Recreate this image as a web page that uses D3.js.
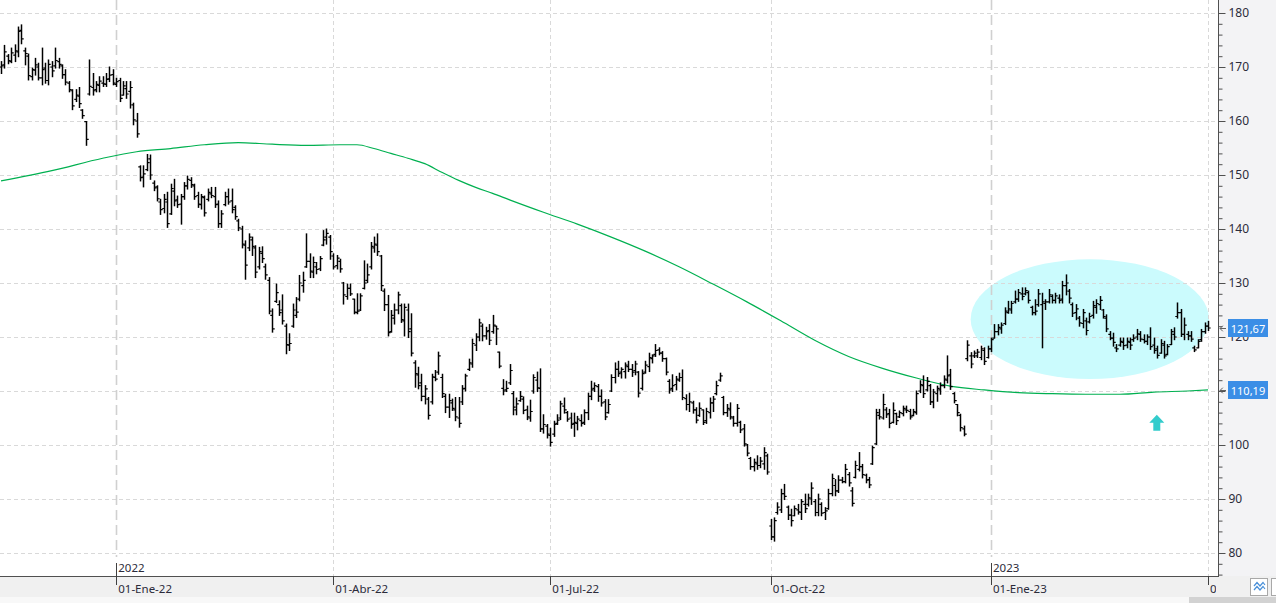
<!DOCTYPE html>
<html>
<head>
<meta charset="utf-8">
<script src="https://cdnjs.cloudflare.com/ajax/libs/d3/7.8.5/d3.min.js"></script>
<style>
  body { margin: 0; background: #fff; }
  svg { display: block; font-family: "Noto Sans", "Open Sans", sans-serif; }
</style>
</head>
<body>
<script>
const W = 1276, H = 603
const PLOT_RIGHT = 1218, PLOT_BOTTOM = 576

// daily bars [open, high, low, close], one array per quarter
const q4_2021 = [
  [170.0,171.0,168.8,170.2],[170.4,174.0,169.8,172.8],[172.0,172.3,170.6,171.2],[171.0,173.5,170.8,172.6],
  [172.2,174.1,171.0,173.0],[172.8,177.4,171.9,176.6],[176.8,177.8,174.3,175.2],[173.0,173.5,170.4,172.5],
  [172.0,172.4,167.6,168.4],[168.2,169.8,167.6,169.5],[169.4,171.6,168.5,170.4],[170.0,170.7,167.6,168.0],
  [168.0,173.5,166.7,169.5],[169.8,170.7,167.0,167.5],[167.5,171.3,166.7,170.5],[170.0,171.0,168.2,169.3],
  [170.2,173.5,169.8,171.2],[171.0,171.6,169.8,170.5],[170.2,170.4,167.9,168.6],[168.6,169.5,166.7,167.2],
  [167.0,167.3,165.4,165.8],[165.6,165.8,162.1,162.8],[164.0,165.8,163.6,164.8],[164.6,166.2,162.5,163.2],
  [162.0,162.1,160.5,161.0],[159.9,159.9,155.5,156.6],[165.0,171.3,164.8,166.4],[166.2,168.8,164.8,165.6],
  [165.8,167.3,165.4,166.8],[166.6,168.2,165.4,167.4],[167.0,168.2,166.4,166.9],[166.8,168.8,166.4,167.7],
  [167.8,170.0,167.3,168.5],[168.6,169.5,166.7,167.0]
]
const q1_2022 = [
  [166.8,167.9,166.4,167.3],[167.5,167.9,163.6,164.2],[164.8,167.3,164.8,166.5],[166.0,167.3,164.2,165.0],
  [165.5,167.3,162.4,166.2],[163.0,163.3,159.3,160.2],[160.0,161.4,157.0,157.6],[151.5,151.7,148.9,149.5],
  [149.6,151.7,147.8,150.2],[151.0,153.8,150.8,152.3],[153.0,153.7,149.2,150.0],[148.5,148.9,147.1,147.6],
  [147.8,148.0,145.2,145.6],[145.0,145.5,142.7,143.6],[143.8,146.4,143.0,145.5],[145.0,146.8,140.3,141.0],
  [142.8,148.3,142.7,147.5],[147.0,149.2,144.3,145.2],[145.4,146.1,144.0,144.5],[144.6,146.4,140.9,146.0],
  [146.0,148.6,145.5,148.0],[148.0,149.8,147.4,149.2],[149.0,149.5,147.7,148.2],[148.0,148.3,145.5,146.0],
  [146.2,146.8,144.0,144.6],[144.5,146.4,143.7,146.0],[145.8,146.1,142.4,143.0],[145.5,147.4,145.2,146.8],
  [146.5,147.7,145.8,146.2],[146.0,147.7,144.0,144.5],[144.6,145.2,140.3,141.0],[141.0,143.4,140.3,142.8],
  [144.5,146.8,144.3,146.0],[146.0,147.4,144.6,145.0],[145.2,147.4,143.0,143.6],[144.0,144.3,141.8,142.3],
  [141.5,141.8,139.7,140.2],[140.0,140.5,136.5,137.2],[137.0,137.8,130.7,133.3],[136.5,139.1,136.0,138.5],
  [138.0,138.5,135.1,136.8],[136.5,136.9,131.0,132.0],[133.0,136.6,132.6,135.8],[135.5,136.7,133.8,134.5],
  [133.0,133.5,130.7,131.5],[130.5,131.0,124.3,124.8],[124.0,125.2,120.9,121.5],[126.6,129.8,126.4,128.2],
  [126.0,126.7,124.0,124.5],[125.0,127.8,122.4,123.0],[122.0,122.4,116.9,118.6],[118.5,120.6,117.5,118.8],
  [122.0,126.1,121.8,125.0],[124.0,127.3,123.6,124.6],[127.0,131.4,126.7,130.0],[129.5,132.0,128.3,130.5],
  [133.0,139.1,132.9,134.0],[134.0,135.4,131.0,132.2],[132.0,134.8,131.0,133.8],[133.0,133.8,131.7,132.5],
  [132.6,134.9,132.3,134.5],[137.0,139.7,136.9,138.0],[138.5,140.0,137.2,139.2],[138.5,138.8,134.4,135.8]
]
const q2_2022 = [
  [135.0,135.4,132.6,133.0],[133.2,135.1,132.6,134.6],[134.0,134.4,132.0,132.6],[130.0,130.1,126.1,127.8],
  [127.5,129.8,127.0,129.0],[129.0,129.8,127.7,128.0],[127.0,127.0,124.3,124.6],[124.5,128.0,124.3,124.8],
  [125.0,128.0,124.9,127.6],[129.0,134.1,128.9,130.0],[130.5,133.5,130.1,131.5],[133.0,137.5,132.6,136.8],
  [136.5,138.5,135.7,137.2],[137.0,139.1,135.1,135.8],[135.0,135.1,128.6,129.5],[128.5,128.9,124.9,126.0],
  [126.0,127.7,120.2,120.8],[121.0,124.9,120.9,124.0],[123.5,126.1,122.4,125.0],[125.0,128.3,124.3,127.8],
  [125.8,126.1,122.7,123.2],[123.0,126.1,120.2,125.5],[125.0,126.1,119.9,121.0],[121.5,124.3,116.5,117.0],
  [115.2,115.6,110.7,113.2],[113.0,114.4,110.4,111.0],[111.5,113.1,108.2,109.0],[109.0,111.0,107.6,110.4],
  [108.5,108.8,104.8,105.5],[108.0,113.1,107.6,112.6],[112.5,113.8,111.9,112.2],[113.5,117.2,113.1,116.5],
  [112.5,113.1,108.8,109.5],[109.0,109.4,106.0,107.0],[107.0,109.4,105.1,108.2],[107.8,108.5,106.4,106.8],
  [106.5,108.8,104.5,105.2],[105.0,108.8,103.3,104.0],[108.0,111.0,107.5,110.4],[110.5,113.1,110.0,112.8],
  [114.0,115.9,113.8,115.2],[115.0,119.6,114.4,118.8],[118.5,120.6,117.5,120.0],[120.0,123.3,119.3,122.6],
  [122.0,122.4,119.3,120.2],[120.2,121.8,119.6,121.0],[121.2,122.3,118.6,119.4],[121.0,124.0,120.7,122.2],
  [122.0,122.0,118.6,121.5],[117.2,117.2,114.3,114.6],[110.5,112.1,109.3,110.0],[110.2,111.8,109.9,110.5],
  [111.5,114.9,111.2,113.8],[109.5,109.9,105.6,107.0],[106.5,108.7,105.6,107.6],[108.2,109.9,108.1,109.0],
  [108.5,108.9,105.8,106.4],[106.5,107.2,104.7,105.2],[105.0,108.3,104.4,106.2],[110.0,113.0,109.6,112.5],
  [112.0,113.5,109.9,110.6],[110.5,114.1,102.5,103.0],[103.0,105.6,102.2,103.8],[103.5,103.8,101.3,102.0]
]
const q3_2022 = [
  [101.8,103.1,99.8,100.5],[102.0,104.4,101.6,103.8],[104.0,105.6,103.8,104.6],[105.0,108.1,104.7,107.6],
  [107.2,108.7,105.9,106.5],[106.0,106.2,104.4,104.8],[105.0,105.9,103.1,103.8],[104.0,105.9,101.6,104.2],
  [104.0,105.3,102.8,104.8],[104.5,105.6,103.5,104.0],[104.2,106.5,103.8,106.0],[106.0,109.6,104.7,109.0],
  [109.0,111.8,108.4,110.2],[110.5,111.5,109.9,111.0],[110.8,111.2,108.1,109.0],[109.0,110.2,107.2,107.8],
  [108.0,108.4,104.7,105.2],[106.0,108.4,105.9,107.5],[110.0,113.0,109.9,112.5],[112.5,115.2,111.5,114.0],
  [114.0,115.5,112.7,113.2],[113.5,114.3,112.4,114.0],[113.6,115.2,112.4,114.8],[114.5,115.5,113.6,114.0],
  [114.0,114.9,112.7,113.5],[113.8,115.5,113.0,115.0],[113.5,113.6,108.9,109.6],[110.5,113.9,110.2,113.2],
  [113.5,115.5,113.3,114.8],[114.5,117.0,113.6,116.2],[116.0,116.7,115.2,116.5],[116.8,118.6,116.4,117.5],
  [117.6,118.0,116.7,117.0],[117.0,117.3,115.5,116.0],[116.0,116.1,113.0,113.5],[111.8,112.1,109.6,110.2],
  [110.5,113.0,109.9,111.0],[111.2,112.7,110.2,112.2],[112.0,113.3,111.8,112.5],[112.5,113.9,108.4,108.8],
  [108.6,109.3,106.5,107.5],[107.5,109.6,106.2,108.0],[107.8,108.1,105.9,106.5],[106.5,106.9,104.1,104.6],
  [105.5,107.8,105.3,106.8],[106.5,106.5,103.8,104.2],[104.5,106.8,104.0,106.2],[106.0,108.7,105.0,107.8],
  [107.8,109.0,106.2,108.5],[109.5,111.8,109.3,111.0],[112.0,113.3,111.8,112.8],[108.8,109.0,105.6,106.0],
  [106.0,107.5,105.3,106.8],[106.5,107.8,104.8,105.2],[105.0,105.3,103.5,104.0],[104.0,107.5,103.5,106.8],
  [104.2,104.4,102.3,102.8],[103.0,103.8,99.8,100.2],[100.0,100.1,98.0,98.5],[97.5,97.7,95.5,96.0],
  [96.0,97.4,95.2,96.8],[96.5,98.0,95.5,96.2],[96.2,97.7,95.8,97.0],[96.5,99.5,95.5,98.6],
  [98.0,98.3,94.6,95.0]
]
const q4_2022 = [
  [85.0,86.2,82.5,83.0],[83.0,86.5,82.2,86.0],[87.5,89.3,87.2,88.5],[88.0,91.8,87.5,91.0],
  [91.0,92.7,89.9,90.5],[88.5,88.7,86.2,87.0],[87.0,88.1,85.0,86.0],[86.9,88.7,86.9,88.2],
  [88.0,89.0,87.2,87.6],[87.5,89.9,86.2,89.5],[89.0,90.9,87.5,88.2],[89.0,90.9,88.7,90.2],
  [90.0,93.0,89.0,92.0],[89.5,89.9,86.9,87.5],[87.5,90.9,86.9,90.0],[89.0,89.3,86.9,87.4],
  [87.5,88.4,86.2,87.8],[88.2,91.8,88.1,91.0],[91.0,94.6,90.6,93.8],[92.5,93.6,90.6,91.5],
  [91.5,94.3,91.2,93.5],[93.5,94.0,93.0,93.2],[93.2,96.4,93.0,95.5],[94.5,94.9,92.4,93.0],
  [91.5,92.1,88.7,89.2],[94.0,97.0,93.9,96.2],[95.5,98.6,95.2,96.0],[96.0,96.4,93.9,94.5],
  [94.4,94.6,93.0,93.5],[93.6,94.0,92.1,92.6],[96.5,99.8,96.4,99.5],[100.2,106.6,100.1,106.0],
  [105.5,106.6,104.8,105.2],[105.0,109.4,104.8,107.5],[106.5,106.9,105.1,105.6],[105.8,106.6,103.2,104.0],
  [104.2,107.8,104.1,106.4],[105.8,105.9,103.8,104.5],[105.2,106.3,105.1,106.0],[105.8,107.2,105.4,106.8],
  [106.5,107.2,106.0,106.4],[106.2,106.6,104.8,105.2],[105.5,106.6,105.4,106.2],[106.0,110.0,105.7,109.5],
  [110.0,111.9,109.7,111.2],[111.0,112.8,108.8,109.5],[110.2,112.5,110.0,111.8],[111.0,111.2,107.5,108.0],
  [108.0,110.3,106.9,109.8],[109.5,110.9,108.1,110.5],[110.2,111.5,109.4,111.0],[111.0,112.8,110.6,112.2],
  [112.0,116.5,111.5,112.8],[113.0,114.0,110.3,110.8],[109.5,109.7,107.8,108.2],[107.5,107.5,105.4,106.0],
  [105.5,105.7,102.6,103.2],[103.0,103.5,101.7,102.0],[116.0,119.3,115.6,118.5],[116.5,117.1,114.3,115.0],
  [116.5,117.4,116.2,117.0],[116.5,117.7,116.2,117.2],[116.2,118.3,115.8,117.8],[117.5,118.0,114.9,115.5],
  [116.2,118.3,116.1,117.8]
]
const q1_2023 = [
  [117.8,119.8,117.3,119.5],[119.8,122.3,119.8,121.0],[121.0,122.3,120.4,121.8],[121.5,122.6,120.7,122.2],
  [122.5,125.4,122.3,124.8],[124.5,126.6,124.4,125.2],[125.0,126.6,124.4,126.2],[126.5,128.5,126.3,127.0],
  [127.0,128.8,126.6,128.2],[128.0,129.1,126.9,127.5],[128.0,129.1,127.8,128.6],[128.2,128.5,126.3,126.8],
  [125.5,125.7,124.1,124.5],[124.5,126.9,124.1,124.8],[126.0,128.8,125.7,128.0],[126.0,128.1,118.0,126.5],
  [126.2,126.9,125.1,126.5],[126.5,128.8,126.3,127.8],[127.5,127.8,126.3,126.8],[126.8,128.1,126.3,127.6],
  [127.2,127.8,126.3,126.8],[127.0,130.3,126.3,129.5],[129.5,131.5,127.8,130.0],[128.5,128.8,126.3,127.2],
  [126.0,126.3,123.8,124.4],[124.5,126.0,123.2,125.2],[123.5,123.8,122.0,122.6],[122.5,125.1,121.7,124.5],
  [123.0,123.5,120.4,121.2],[122.8,124.4,122.6,123.8],[124.0,126.6,123.5,125.8],[125.5,126.9,124.4,126.2],
  [126.0,127.5,125.1,126.8],[125.0,125.1,123.5,123.8],[123.5,124.1,121.0,121.5],[120.5,121.0,119.5,119.8],
  [119.8,120.7,118.3,119.0],[118.0,118.6,117.3,117.8],[118.5,119.8,118.3,119.2],[119.0,119.8,117.7,118.4],
  [118.5,119.8,118.0,119.2],[119.0,119.8,117.7,118.5],[119.5,120.4,119.2,119.8],[120.0,121.4,119.5,120.6],
  [120.5,121.0,119.2,119.6],[119.5,120.4,118.9,119.2],[119.2,120.4,118.6,120.0],[120.0,121.7,117.7,118.2],
  [118.5,119.8,117.0,117.5],[117.8,118.3,116.1,116.6],[117.0,119.5,117.0,118.8],[118.5,119.2,116.1,116.5],
  [116.8,118.6,116.7,118.2],[118.6,121.4,118.6,121.0],[120.5,121.7,119.5,120.0],[123.8,126.3,123.5,124.5],
  [124.5,125.1,120.1,120.5],[120.5,123.5,119.5,122.2],[120.5,121.0,119.5,120.2],[120.2,121.0,119.2,119.6],
  [118.0,118.3,117.3,117.6],[118.0,119.5,118.0,119.2],[119.5,121.4,119.2,121.0],[121.0,122.6,120.7,122.0]
]
const q2_2023 = [
  [122.0,122.9,121.2,121.67]
]

const quarters = [q4_2021, q1_2022, q2_2022, q3_2022, q4_2022, q1_2023, q2_2023]
const quarterLabels = [null, "01-Ene-22", "01-Abr-22", "01-Jul-22", "01-Oct-22", "01-Ene-23", "01-Abr-23"]
const yearLabels = [null, "2022", null, null, null, "2023", null]

// 200-session moving average, read at every few bars
const maIndex = [0, 15, 30, 40, 50, 60, 70, 80, 90, 100, 105, 110, 115, 120, 125, 130, 135, 140, 145, 150,
  160, 170, 180, 190, 200, 210, 220, 230, 240, 250, 260, 270, 280, 290, 300, 310, 320, 330, 340, 350, 356]
const maValue = [148.9, 150.8, 153.1, 154.3, 154.9, 155.6, 156.0, 155.7, 155.5, 155.6, 155.6, 154.9, 154.0, 153.1,
  152.1, 150.5, 149.0, 147.7, 146.6, 145.4, 143.1, 140.9, 138.5, 135.9, 133.0, 129.8, 126.5, 123.0, 119.4, 116.4,
  114.2, 112.4, 110.9, 110.2, 109.7, 109.5, 109.4, 109.4, 109.8, 110.0, 110.19]

const yTicks = d3.range(80, 181, 10)
const yMinor = d3.range(76, 181, 2)

// annotations: highlighted zone and arrow (bar index / price)
const zone = {i0: 286, i1: 356.3, p0: 112.2, p1: 134.4}
const upArrow = {i: 340.9, p: 105.6}

const bars = quarters.flat()
const qStart = []
let acc = 0
quarters.forEach(q => { qStart.push(acc); acc += q.length })

const svg = d3.select("body").append("svg").attr("width", W).attr("height", H)

const x = d3.scaleLinear().domain([0, bars.length - 1]).range([1, 1208])
const y = d3.scaleLinear().domain([80, 180]).range([553, 13])
const px = v => Math.round(v) + 0.5

svg.append("rect").attr("width", W).attr("height", H).attr("fill", "#fff")

svg.append("clipPath").attr("id", "plotclip")
  .append("rect").attr("x", 0).attr("y", 0).attr("width", PLOT_RIGHT).attr("height", PLOT_BOTTOM)
svg.append("clipPath").attr("id", "labelclip")
  .append("rect").attr("x", 0).attr("y", PLOT_BOTTOM).attr("width", 1216).attr("height", 22)

const plot = svg.append("g").attr("clip-path", "url(#plotclip)")

// highlighted zone
plot.append("ellipse")
  .attr("cx", (x(zone.i0) + x(zone.i1)) / 2)
  .attr("cy", (y(zone.p0) + y(zone.p1)) / 2)
  .attr("rx", (x(zone.i1) - x(zone.i0)) / 2)
  .attr("ry", (y(zone.p0) - y(zone.p1)) / 2)
  .attr("fill", "#cbfbfd")

// horizontal grid
plot.append("g").selectAll("line").data(yTicks).join("line")
  .attr("x1", 0).attr("x2", PLOT_RIGHT)
  .attr("y1", d => px(y(d))).attr("y2", d => px(y(d)))
  .attr("stroke", "#d9d9d9").attr("stroke-dasharray", "4,3")

// vertical grid at quarter starts
const vgrid = quarterLabels.map((l, k) => ({k, l, year: yearLabels[k]})).filter(d => d.l)
plot.append("g").selectAll("line").data(vgrid).join("line")
  .attr("x1", d => px(x(qStart[d.k]))).attr("x2", d => px(x(qStart[d.k])))
  .attr("y1", 0).attr("y2", d => d.year ? 557 : PLOT_BOTTOM)
  .attr("stroke", d => d.year ? "#d0d0d0" : "#d9d9d9")
  .attr("stroke-width", d => d.year ? 1.6 : 1)
  .attr("stroke-dasharray", d => d.year ? "10,5" : "4,3")

// moving average
const maLine = d3.line().x(d => x(d[0])).y(d => y(d[1])).curve(d3.curveMonotoneX)
plot.append("path")
  .attr("d", maLine(d3.zip(maIndex, maValue)))
  .attr("fill", "none").attr("stroke", "#00b050").attr("stroke-width", 1.2)

// OHLC bars
const barG = plot.append("g").attr("stroke", "#000").attr("fill", "none")
barG.selectAll("path.hl").data(bars).join("path").attr("class", "hl")
  .attr("d", (d, i) => `M${px(x(i))},${y(d[1]) - 0.5}V${y(d[2]) + 0.5}`)
  .attr("stroke-width", 1.5)
barG.selectAll("path.oc").data(bars).join("path").attr("class", "oc")
  .attr("d", (d, i) => {
    const cx = px(x(i))
    return `M${cx - 2.2},${y(d[0])}H${cx}M${cx},${y(d[3])}H${cx + 2.2}`
  })
  .attr("stroke-width", 1.2)

// up arrow
const ax = x(upArrow.i), ay = y(upArrow.p)
plot.append("path")
  .attr("d", `M${ax},${ay}L${ax + 7.5},${ay + 8}H${ax + 3.5}V${ay + 16}H${ax - 3.5}V${ay + 8}H${ax - 7.5}Z`)
  .attr("fill", "#33cccc")

// right axis panel
svg.append("rect").attr("x", PLOT_RIGHT).attr("y", 0).attr("width", W - PLOT_RIGHT).attr("height", PLOT_BOTTOM)
  .attr("fill", "#f3f3f5")
const yAxisG = svg.append("g").attr("transform", `translate(${PLOT_RIGHT + 0.5},0)`)
yAxisG.append("g").call(d3.axisRight(y).tickValues(yMinor).tickSize(4).tickFormat(""))
  .call(g => g.select(".domain").remove())
yAxisG.append("g").call(d3.axisRight(y).tickValues(yTicks).tickSize(7).tickPadding(3).tickFormat(d3.format("d")))
  .call(g => g.select(".domain").remove())
yAxisG.selectAll("line").attr("stroke", "#505050")
yAxisG.selectAll("text").attr("fill", "#2b2b3a").style("font-size", "12px")
  .style("font-family", '"Noto Sans", "Open Sans", sans-serif')

svg.append("line").attr("x1", PLOT_RIGHT + 0.5).attr("x2", PLOT_RIGHT + 0.5).attr("y1", 0).attr("y2", PLOT_BOTTOM)
  .attr("stroke", "#505050")

// price tags on the axis
const fmt = d3.formatLocale({decimal: ",", thousands: ".", grouping: [3], currency: ["", "€"]}).format(".2f")
const tags = [bars[bars.length - 1][3], maValue[maValue.length - 1]]
const tagG = svg.append("g").selectAll("g").data(tags).join("g")
  .attr("transform", d => `translate(0,${Math.round(y(d))})`)
tagG.append("path")
  .attr("d", "M1226,0.5H1220M1222.8,-2.3L1220,0.5L1222.8,3.3")
  .attr("stroke", "#606060").attr("fill", "none")
tagG.append("rect").attr("x", 1228).attr("y", -9).attr("width", 40).attr("height", 18).attr("fill", "#3b8ee6")
tagG.append("text").attr("x", 1248).attr("y", 4.5).attr("text-anchor", "middle").text(d => fmt(d))
  .attr("fill", "#fff").style("font-size", "11px")

// bottom time axis band
svg.append("rect").attr("x", 0).attr("y", PLOT_BOTTOM).attr("width", W).attr("height", 21).attr("fill", "#f0f0f0")
svg.append("rect").attr("x", 0).attr("y", 597).attr("width", W).attr("height", 6).attr("fill", "#f8f8f8")
svg.append("rect").attr("x", 1189).attr("y", 597).attr("width", W - 1189).attr("height", 6).attr("fill", "#d2d2d2")
svg.append("line").attr("x1", 0).attr("x2", PLOT_RIGHT + 1).attr("y1", PLOT_BOTTOM + 0.5).attr("y2", PLOT_BOTTOM + 0.5)
  .attr("stroke", "#505050")

const xt = svg.append("g")
xt.selectAll("line.q").data(vgrid).join("line").attr("class", "q")
  .attr("x1", d => px(x(qStart[d.k]))).attr("x2", d => px(x(qStart[d.k])))
  .attr("y1", d => d.year ? 563 : PLOT_BOTTOM).attr("y2", 585)
  .attr("stroke", "#404040")
xt.append("g").attr("clip-path", "url(#labelclip)")
  .selectAll("text").data(vgrid).join("text")
  .attr("x", d => x(qStart[d.k]) + 2).attr("y", 593)
  .text(d => d.l).attr("fill", "#2b2b3a").style("font-size", "11.5px")
xt.selectAll("text.yr").data(vgrid.filter(d => d.year)).join("text").attr("class", "yr")
  .attr("x", d => x(qStart[d.k]) + 2).attr("y", 572)
  .text(d => d.year).attr("fill", "#2b2b3a").style("font-size", "11.5px")

// small toolbar buttons at the corner
svg.append("rect").attr("x", 1250.5).attr("y", 578.5).attr("width", 17).attr("height", 17)
  .attr("fill", "#fff").attr("stroke", "#a8a8a8")
svg.append("rect").attr("x", 1271.5).attr("y", 578.5).attr("width", 10).attr("height", 17)
  .attr("fill", "#fff").attr("stroke", "#a8a8a8")
svg.append("path")
  .attr("d", "M1254,586L1257,582.5L1260,586L1263,582.5L1265,585M1254,590L1257,586.5L1260,590L1263,586.5L1265,589")
  .attr("fill", "none").attr("stroke", "#4a90d9").attr("stroke-width", 1.2)
</script>
</body>
</html>
